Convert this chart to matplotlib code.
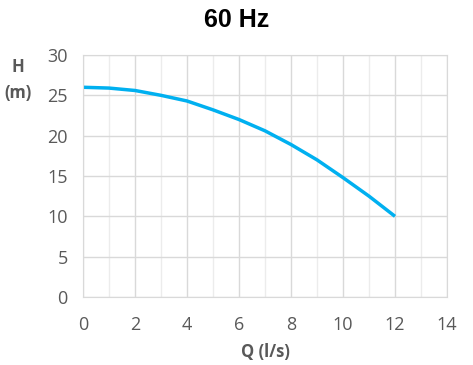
import matplotlib
matplotlib.use("Agg")
import matplotlib.pyplot as plt
import numpy as np

q = [0, 1, 2, 3, 4, 5, 6, 7, 8, 9, 10, 11, 12]
h = [26.0, 25.9, 25.6, 25.0, 24.3, 23.2, 22.0, 20.6, 18.9, 17.0, 14.8, 12.5, 10.0]
xticks = [0, 2, 4, 6, 8, 10, 12, 14]
yticks = [0, 5, 10, 15, 20, 25, 30]

fig = plt.figure(figsize=(4.73, 3.65), dpi=100)
ax = fig.add_axes([83/473, 1-297/365, (447-83)/473, (297-55)/365])

ax.set_xlim(0, 14)
ax.set_ylim(0, 30)
ax.set_xticks(xticks)
ax.set_yticks(yticks)
ax.set_xticks(range(1, 14, 2), minor=True)
ax.grid(True, which='major', color='#d9d9d9', linewidth=1.0)
ax.grid(True, which='minor', axis='x', color='#ececec', linewidth=1.0)
ax.set_axisbelow(True)
for s in ax.spines.values():
    s.set_color('#d9d9d9')
ax.tick_params(which='both', length=0, labelsize=13, colors='#595959')
ax.tick_params(axis='y', pad=11)
ax.tick_params(axis='x', pad=14)
for lab in ax.get_xticklabels() + ax.get_yticklabels():
    lab.set_fontfamily('Open Sans')

ax.plot(q, h, color='#00b0f0', linewidth=2.5, solid_capstyle='butt')

fig.text(237/473, 1-20/365, '60 Hz', ha='center', va='center', fontsize=18,
         fontweight='bold', family='Liberation Sans')
fig.text(18/473, 1-80/365, 'H\n(m)', ha='center', va='center', fontsize=12,
         fontweight='bold', color='#595959', family='Open Sans', linespacing=1.6)
fig.text(265/473, 1-352/365, 'Q (l/s)', ha='center', va='center', fontsize=12,
         fontweight='bold', color='#595959', family='Open Sans')

fig.savefig('out.png', dpi=100)
